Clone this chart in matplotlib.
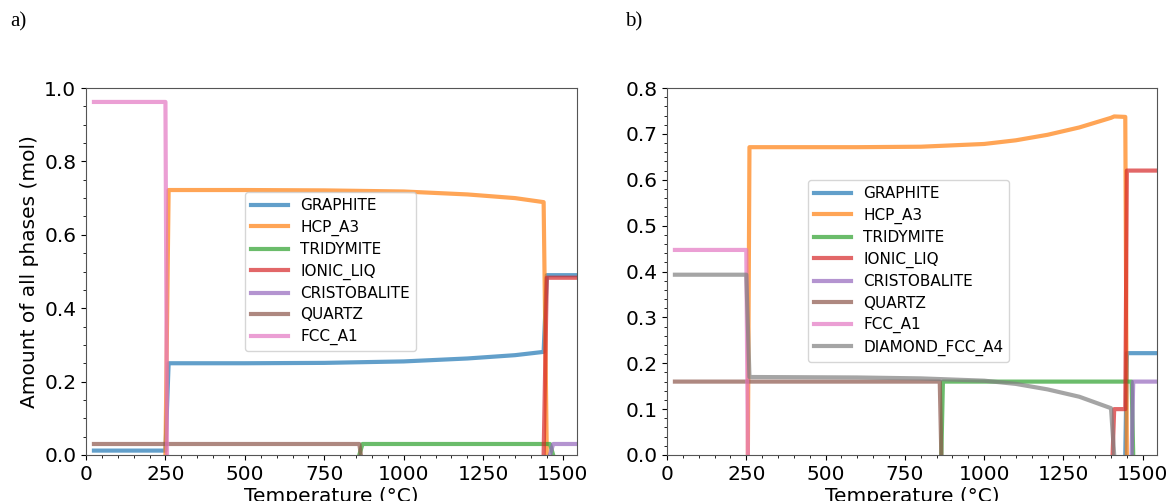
import numpy as np
import matplotlib
matplotlib.use('Agg')
import matplotlib.pyplot as plt
from matplotlib.ticker import AutoMinorLocator

nan = np.nan

# ---- panel a) ----  (nan = phase absent)
a_graphite_T = [25, 250, 260, 500, 750, 1000, 1200, 1350, 1440, 1450, 1545]
a_graphite = [0.012, 0.012, 0.250, 0.250, 0.251, 0.255, 0.263, 0.272, 0.281, 0.490, 0.490]
a_hcp_T = [25, 250, 260, 500, 750, 1000, 1200, 1350, 1440, 1450, 1545]
a_hcp = [nan, 0.0, 0.722, 0.722, 0.721, 0.718, 0.710, 0.700, 0.689, 0.0, nan]
a_trid_T = [25, 860, 870, 1460, 1470, 1545]
a_trid = [nan, 0.0, 0.030, 0.030, 0.0, nan]
a_liq_T = [25, 1440, 1450, 1545]
a_liq = [nan, 0.0, 0.483, 0.483]
a_crist_T = [25, 1460, 1470, 1545]
a_crist = [nan, 0.0, 0.030, 0.030]
a_quartz_T = [25, 860, 865, 1545]
a_quartz = [0.030, 0.030, 0.0, nan]
a_fcc_T = [25, 250, 255, 1545]
a_fcc = [0.962, 0.962, 0.0, nan]

# ---- panel b) ----
b_graphite_T = [25, 1445, 1450, 1545]
b_graphite = [nan, 0.0, 0.222, 0.222]
b_hcp_T = [25, 255, 260, 600, 800, 1000, 1100, 1200, 1300, 1400, 1410, 1445, 1450, 1545]
b_hcp = [nan, 0.0, 0.671, 0.671, 0.672, 0.678, 0.686, 0.698, 0.714, 0.735, 0.738, 0.737, 0.0, nan]
b_trid_T = [25, 865, 870, 1465, 1470, 1545]
b_trid = [nan, 0.0, 0.160, 0.160, 0.0, nan]
b_liq_T = [25, 1405, 1410, 1445, 1450, 1545]
b_liq = [nan, 0.0, 0.100, 0.100, 0.620, 0.620]
b_crist_T = [25, 1465, 1470, 1545]
b_crist = [nan, 0.0, 0.160, 0.160]
b_quartz_T = [25, 860, 865, 1545]
b_quartz = [0.160, 0.160, 0.0, nan]
b_fcc_T = [25, 250, 255, 1545]
b_fcc = [0.447, 0.447, 0.0, nan]
b_diam_T = [25, 250, 260, 600, 800, 1000, 1100, 1200, 1300, 1400, 1410, 1545]
b_diam = [0.393, 0.393, 0.170, 0.169, 0.167, 0.162, 0.155, 0.143, 0.127, 0.102, 0.0, nan]

names = ['GRAPHITE', 'HCP_A3', 'TRIDYMITE', 'IONIC_LIQ', 'CRISTOBALITE',
         'QUARTZ', 'FCC_A1', 'DIAMOND_FCC_A4']

series_a = [(a_graphite_T, a_graphite), (a_hcp_T, a_hcp), (a_trid_T, a_trid),
            (a_liq_T, a_liq), (a_crist_T, a_crist), (a_quartz_T, a_quartz),
            (a_fcc_T, a_fcc)]
series_b = [(b_graphite_T, b_graphite), (b_hcp_T, b_hcp), (b_trid_T, b_trid),
            (b_liq_T, b_liq), (b_crist_T, b_crist), (b_quartz_T, b_quartz),
            (b_fcc_T, b_fcc), (b_diam_T, b_diam)]

fig = plt.figure(figsize=(11.7, 5.01), dpi=100)
W, H = 1170.0, 501.0
ax1 = fig.add_axes([86/W, 1-455/H, 491/W, 367/H])
ax2 = fig.add_axes([667/W, 1-455/H, 490/W, 367/H])

for ax, series in ((ax1, series_a), (ax2, series_b)):
	for i, (t, v) in enumerate(series):
		ax.plot(t, v, color='C%d' % i, lw=3, alpha=0.7, label=names[i])
	ax.set_xlim(0, 1545)
	ax.set_xticks([0, 250, 500, 750, 1000, 1250, 1500])
	ax.xaxis.set_minor_locator(AutoMinorLocator(5))
	ax.yaxis.set_minor_locator(AutoMinorLocator())
	ax.tick_params(labelsize=14.5)
	ax.set_xlabel('Temperature (°C)', fontsize=14.5, labelpad=2)
	for s in ax.spines.values():
		s.set_color('#555555')

ax1.set_ylim(0, 1.0)
ax1.set_ylabel('Amount of all phases (mol)', fontsize=14.5)
ax2.set_ylim(0, 0.8)

ax1.legend(fontsize=11, loc='upper left', bbox_to_anchor=(0.324, 0.717),
           framealpha=0.8, labelspacing=0.42, handlelength=2.4, borderaxespad=0)
ax2.legend(fontsize=11, loc='upper left', bbox_to_anchor=(0.288, 0.749),
           framealpha=0.8, labelspacing=0.42, handlelength=2.4, borderaxespad=0)

fig.text(10/W, 1-22/H, 'a)', family='Liberation Serif', fontsize=15, va='center')
fig.text(625/W, 1-22/H, 'b)', family='Liberation Serif', fontsize=15, va='center')

fig.savefig('out.png', dpi=100)
